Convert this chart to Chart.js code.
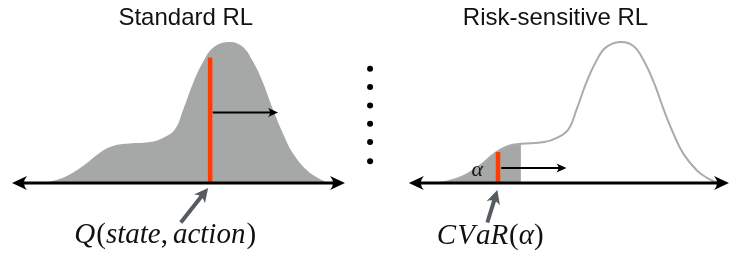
<!DOCTYPE html>
<html>
<head>
<meta charset="utf-8">
<script src="https://cdn.jsdelivr.net/npm/chart.js@4.4.1/dist/chart.umd.min.js"></script>
<style>
  html, body { margin: 0; padding: 0; background: #fff; }
  #wrap { position: relative; width: 733px; height: 254px; overflow: hidden; }
  #leftBox { position: absolute; left: 0; top: 0; width: 356px; height: 254px; }
  #rightBox { position: absolute; left: 356px; top: 0; width: 377px; height: 254px; }
</style>
</head>
<body>
<div id="wrap">
  <div id="leftBox"><canvas id="leftChart"></canvas></div>
  <div id="rightBox"><canvas id="rightChart"></canvas></div>
</div>
<script>
// return distribution (x = return, y = density)
const returnValues = [0.75, 1.14, 1.65, 2.13, 2.64, 3.03, 3.42, 4.14, 4.53, 4.89, 5.14, 5.44, 5.74, 6.04, 6.49, 6.91, 7.24, 7.54, 7.84, 8.14, 8.44, 8.86, 9.19, 9.49];
const densityValues = [0, 0.01, 0.05, 0.12, 0.215, 0.262, 0.278, 0.29, 0.32, 0.38, 0.52, 0.71, 0.86, 0.96, 1.0, 0.97, 0.86, 0.71, 0.52, 0.35, 0.21, 0.09, 0.035, 0];

// return axis extent in each panel
const leftAxis = [0, 10];
const rightAxis = [-0.05, 9.86];

// standard RL: expected value marker
const qValue = 5.95;
const qMarkerTop = 0.89;
const qArrow = [6.03, 7.99];
const qArrowLevel = 0.5;

// risk-sensitive RL: CVaR marker and alpha tail
const cvarValue = 2.71;
const cvarMarkerTop = 0.22;
const alphaCut = 3.42;
const cvarArrow = [2.81, 4.83];
const cvarArrowLevel = 0.106;

// dots between the panels
const dotX = -1.25;
const dotLevels = [0.81, 0.68, 0.55, 0.42, 0.29, 0.155];

const titles = ['Standard RL', 'Risk-sensitive RL'];

const RED = '#ff3d00';
const FILL = '#a5a8a6';
const LINE_GRAY = '#ababab';
const POINTER = '#565b60';

function curvePoints(filter) {
  const pts = [];
  returnValues.forEach((x, i) => {
    if (!filter || filter(x)) pts.push({ x: x, y: densityValues[i] });
  });
  return pts;
}

function arrowHead(ctx, x1, y1, x2, y2, len, half, color) {
  const a = Math.atan2(y2 - y1, x2 - x1);
  ctx.save();
  ctx.translate(x2, y2);
  ctx.rotate(a);
  ctx.fillStyle = color;
  ctx.beginPath();
  ctx.moveTo(0, 0);
  ctx.lineTo(-len, -half);
  ctx.quadraticCurveTo(-len * 0.6, 0, -len, half);
  ctx.closePath();
  ctx.fill();
  ctx.restore();
}

function drawArrow(ctx, x1, y1, x2, y2, width, color, len, half, both) {
  const a = Math.atan2(y2 - y1, x2 - x1);
  const back = len * 0.6;
  ctx.save();
  ctx.strokeStyle = color;
  ctx.lineWidth = width;
  ctx.beginPath();
  ctx.moveTo(both ? x1 + Math.cos(a) * back : x1, both ? y1 + Math.sin(a) * back : y1);
  ctx.lineTo(x2 - Math.cos(a) * back, y2 - Math.sin(a) * back);
  ctx.stroke();
  ctx.restore();
  arrowHead(ctx, x1, y1, x2, y2, len, half, color);
  if (both) arrowHead(ctx, x2, y2, x1, y1, len, half, color);
}

function drawMath(ctx, parts, cx, baseline, size) {
  const fonts = {
    i: 'italic ' + size + 'px "Liberation Serif", "DejaVu Serif", serif',
    n: size + 'px "Liberation Serif", "DejaVu Serif", serif'
  };
  let total = 0;
  parts.forEach(p => { ctx.font = fonts[p[1]]; total += ctx.measureText(p[0]).width + (p[2] || 0); });
  let x = cx - total / 2;
  ctx.fillStyle = '#111';
  ctx.textBaseline = 'alphabetic';
  ctx.textAlign = 'left';
  parts.forEach(p => {
    ctx.font = fonts[p[1]];
    ctx.fillText(p[0], x, baseline);
    x += ctx.measureText(p[0]).width + (p[2] || 0);
  });
}

function drawTitle(ctx, text, cx) {
  ctx.save();
  ctx.font = '24px "Liberation Sans", Arial, sans-serif';
  ctx.fillStyle = '#111';
  ctx.textAlign = 'center';
  ctx.textBaseline = 'alphabetic';
  ctx.fillText(text, cx, 25);
  ctx.restore();
}

const leftDecor = {
  id: 'leftDecor',
  afterDatasetsDraw(chart) {
    const ctx = chart.ctx;
    const xs = chart.scales.x, ys = chart.scales.y;
    const y0 = ys.getPixelForValue(0);
    drawArrow(ctx, xs.getPixelForValue(leftAxis[0]), y0, xs.getPixelForValue(leftAxis[1]), y0, 3, '#000', 15, 7, true);
    drawArrow(ctx, xs.getPixelForValue(qArrow[0]), ys.getPixelForValue(qArrowLevel),
      xs.getPixelForValue(qArrow[1]), ys.getPixelForValue(qArrowLevel), 2, '#000', 10, 4.5, false);
    drawArrow(ctx, xs.getPixelForValue(qValue - 0.88), ys.getPixelForValue(-0.28),
      xs.getPixelForValue(qValue - 0.06), ys.getPixelForValue(-0.035), 4, POINTER, 14, 7, false);
    drawTitle(ctx, titles[0], xs.getPixelForValue(5.22));
    drawMath(ctx, [['Q', 'i', 1], ['(', 'n'], ['state', 'i'], [',', 'n', 5], ['action', 'i', 1], [')', 'n']],
      xs.getPixelForValue(4.6), ys.getPixelForValue(-0.425), 29);
  }
};

const rightDecor = {
  id: 'rightDecor',
  afterDatasetsDraw(chart) {
    const ctx = chart.ctx;
    const xs = chart.scales.x, ys = chart.scales.y;
    const y0 = ys.getPixelForValue(0);
    drawArrow(ctx, xs.getPixelForValue(rightAxis[0]), y0, xs.getPixelForValue(rightAxis[1]), y0, 3, '#000', 15, 7, true);
    drawArrow(ctx, xs.getPixelForValue(cvarArrow[0]), ys.getPixelForValue(cvarArrowLevel),
      xs.getPixelForValue(cvarArrow[1]), ys.getPixelForValue(cvarArrowLevel), 2, '#000', 10, 4.5, false);
    drawArrow(ctx, xs.getPixelForValue(cvarValue - 0.33), ys.getPixelForValue(-0.28),
      xs.getPixelForValue(cvarValue - 0.02), ys.getPixelForValue(-0.05), 4, POINTER, 14, 7, false);
    drawTitle(ctx, titles[1], xs.getPixelForValue(4.49));
    drawMath(ctx, [['C', 'i', 1], ['V', 'i', 1], ['a', 'i'], ['R', 'i', 1], ['(', 'n'], ['\u03b1', 'i'], [')', 'n']],
      xs.getPixelForValue(2.47), ys.getPixelForValue(-0.43), 29);
    drawMath(ctx, [['\u03b1', 'i']], xs.getPixelForValue(2.07), ys.getPixelForValue(0.05), 22);
  }
};

function baseOptions(padL, padR, xMin, xMax) {
  return {
    responsive: true,
    maintainAspectRatio: false,
    animation: false,
    layout: { padding: { left: padL, right: padR, top: 42, bottom: 71 } },
    plugins: { legend: { display: false }, tooltip: { enabled: false }, title: { display: false } },
    scales: {
      x: { type: 'linear', min: xMin, max: xMax, display: false },
      y: { min: 0, max: 1, display: false }
    },
    elements: { point: { radius: 0 }, line: { capBezierPoints: false } }
  };
}

// left panel: 12px..345px covers leftAxis
new Chart(document.getElementById('leftChart').getContext('2d'), {
  type: 'line',
  data: {
    datasets: [
      {
        data: curvePoints(),
        fill: 'origin',
        backgroundColor: FILL,
        borderWidth: 0,
        tension: 0.4,
        order: 2
      },
      {
        data: [{ x: qValue, y: 0 }, { x: qValue, y: qMarkerTop }],
        borderColor: RED,
        borderWidth: 4.5,
        borderCapStyle: 'butt',
        fill: false,
        clip: false,
        order: 0
      }
    ]
  },
  options: baseOptions(12, 11, leftAxis[0], leftAxis[1]),
  plugins: [leftDecor]
});

// right panel: scale extends left of the axis so the dots fall in range
new Chart(document.getElementById('rightChart').getContext('2d'), {
  type: 'line',
  data: {
    datasets: [
      {
        data: curvePoints(x => x <= alphaCut),
        fill: 'origin',
        backgroundColor: FILL,
        borderWidth: 0,
        tension: 0.4,
        order: 3
      },
      {
        data: curvePoints(),
        fill: false,
        borderColor: LINE_GRAY,
        borderWidth: 2,
        tension: 0.4,
        clip: false,
        order: 2
      },
      {
        data: [{ x: cvarValue, y: 0 }, { x: cvarValue, y: cvarMarkerTop }],
        borderColor: RED,
        borderWidth: 4.5,
        borderCapStyle: 'butt',
        fill: false,
        clip: false,
        order: 0
      },
      {
        type: 'scatter',
        data: dotLevels.map(v => ({ x: dotX, y: v })),
        pointRadius: 3,
        pointBackgroundColor: '#000',
        pointBorderWidth: 0,
        clip: false,
        order: 1
      }
    ]
  },
  options: baseOptions(6, 1, -1.5, rightAxis[1]),
  plugins: [rightDecor]
});
</script>
</body>
</html>
